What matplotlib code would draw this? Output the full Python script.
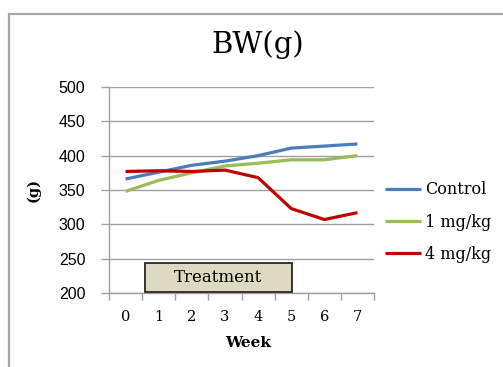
import matplotlib
matplotlib.use("Agg")
import matplotlib.pyplot as plt
from matplotlib.patches import Rectangle

weeks = [0, 1, 2, 3, 4, 5, 6, 7]
week_labels = ["0", "1", "2", "3", "4", "5", "6", "7"]
control = [366, 376, 386, 392, 400, 411, 414, 417]
low_dose = [348, 364, 375, 385, 389, 394, 394, 400]
high_dose = [377, 378, 377, 379, 368, 323, 307, 317]
series_names = ["Control", "1 mg/kg", "4 mg/kg"]
series_colors = ["#4a7ebb", "#9bbb59", "#c00000"]
treatment_span = (0.58, 5.03)
treatment_range = (201, 244)
y_ticks = [200, 250, 300, 350, 400, 450, 500]

SERIF = "DejaVu Serif"
W, H = 503, 367
fig = plt.figure(figsize=(W / 100, H / 100), dpi=100)

# outer frame of the chart area
fig.patches.append(Rectangle((8.5 / W, -0.01), 1.2, (H - 13.5) / H + 0.01,
                             transform=fig.transFigure, fill=False,
                             edgecolor="#a6a6a6", linewidth=1.6))

ax = fig.add_axes([109 / W, (H - 293) / H, (374 - 109) / W, (293 - 87) / H])

for vals, name, col in zip([control, low_dose, high_dose], series_names, series_colors):
    ax.plot(weeks, vals, color=col, linewidth=2.3, label=name, solid_capstyle="butt")

ax.set_xlim(-0.5, 7.5)
ax.set_ylim(200, 500)
ax.set_yticks(y_ticks)
ax.set_yticklabels([str(v) for v in y_ticks], fontsize=11.5, family="Liberation Sans")
ax.yaxis.grid(True, color="#a0a0a0", linewidth=1.0)
ax.set_axisbelow(True)

ax.set_xticks(weeks)
ax.set_xticklabels(week_labels, fontsize=10.5, family=SERIF)
ax.set_xticks([w - 0.5 for w in weeks] + [7.5], minor=True)
ax.tick_params(axis="x", which="major", length=0, pad=12)
ax.tick_params(axis="x", which="minor", length=5, color="#a0a0a0", width=1)
ax.tick_params(axis="y", length=6, color="#a0a0a0", width=1, pad=11)

for side in ["top", "right"]:
    ax.spines[side].set_visible(False)
for side in ["left", "bottom"]:
    ax.spines[side].set_color("#a0a0a0")
    ax.spines[side].set_linewidth(1.0)

# treatment period box
x0, x1 = treatment_span
y0, y1 = treatment_range
ax.add_patch(Rectangle((x0, y0), x1 - x0, y1 - y0, facecolor="#ddd9c3",
                       edgecolor="#262626", linewidth=1.3, zorder=3))
ax.text((x0 + x1) / 2, (y0 + y1) / 2, "Treatment", ha="center", va="center",
        fontsize=12, family=SERIF, zorder=4)

fig.text(248 / W, 1 - 343 / H, "Week", ha="center", va="center",
         fontsize=11, family=SERIF, fontweight="bold")
fig.text(33 / W, 1 - 190 / H, "(g)", ha="center", va="center", rotation=90,
         fontsize=10.5, family=SERIF, fontweight="bold")

fig.text(258 / W, 1 - 45 / H, "BW(g)", ha="center", va="center",
         fontsize=21, family=SERIF)

fig.legend(loc="upper left", bbox_to_anchor=(371 / W, 1 - 167 / H), frameon=False,
           handlelength=2.25, handletextpad=0.25, labelspacing=0.95,
           prop={"family": SERIF, "size": 11.5})

fig.savefig("out.png", dpi=100)
